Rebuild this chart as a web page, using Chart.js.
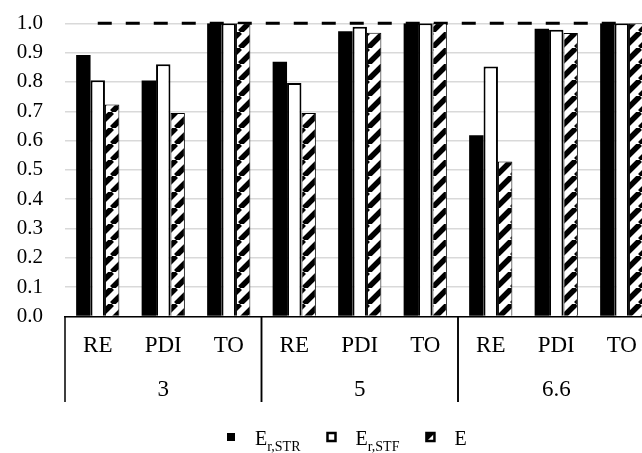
<!DOCTYPE html>
<html>
<head>
<meta charset="utf-8">
<script src="https://cdn.jsdelivr.net/npm/chart.js@4.4.1/dist/chart.umd.min.js"></script>
<style>
  html, body { margin: 0; padding: 0; background: #fff; overflow: hidden; }
  #wrap { width: 642px; height: 453px; overflow: hidden; position: relative; }
  #effChart { position: absolute; left: 0; top: 0; }
</style>
</head>
<body>
<div id="wrap"><canvas id="effChart" width="660" height="453"></canvas></div>
<script>
// groups along the x axis, each split into the three metrics
const groups = ['3', '5', '6.6'];
const metrics = ['RE', 'PDI', 'TO'];
const categories = groups.flatMap(() => metrics);

const strValues = [0.892, 0.805, 1.0, 0.869, 0.973, 1.0, 0.618, 0.981, 1.0];
const stfValues = [0.806, 0.860, 1.0, 0.796, 0.988, 1.0, 0.853, 0.978, 1.0];
const eValues   = [0.723, 0.694, 1.0, 0.694, 0.968, 1.0, 0.529, 0.967, 1.0];
const refValues = [1, 1, 1, 1, 1, 1, 1, 1, 1];

// legend text: main letter + subscript
const legendMain = ['E', 'E', 'E'];
const legendSub = ['r,STR', 'r,STF', ''];

const serif = "'Liberation Serif', 'Times New Roman', serif";
Chart.defaults.font.family = serif;
Chart.defaults.color = '#000';

// white fill with thick "/" stripes
function makeHatch() {
  const size = 16;
  const c = document.createElement('canvas');
  c.width = size;
  c.height = size;
  const g = c.getContext('2d');
  g.fillStyle = '#fff';
  g.fillRect(0, 0, size, size);
  g.strokeStyle = '#000';
  g.lineWidth = 5.5;
  g.beginPath();
  for (let k = -1; k <= 1; k++) {
    g.moveTo(k * size, size);
    g.lineTo(k * size + size, 0);
  }
  g.stroke();
  const ctx = document.getElementById('effChart').getContext('2d');
  return ctx.createPattern(c, 'repeat');
}

// second row of x labels plus the separators between groups
const groupAxis = {
  id: 'groupAxis',
  afterDraw(chart) {
    const ctx = chart.ctx;
    const xs = chart.scales.x;
    const half = (xs.getPixelForValue(1) - xs.getPixelForValue(0)) / 2;
    const top = chart.chartArea.bottom;
    const bottom = 402;
    ctx.save();
    ctx.strokeStyle = '#000';
    ctx.lineWidth = 1.5;
    ctx.fillStyle = '#000';
    ctx.font = '23px ' + serif;
    ctx.textAlign = 'center';
    ctx.textBaseline = 'alphabetic';
    groups.forEach((name, gi) => {
      const first = gi * metrics.length;
      const last = first + metrics.length - 1;
      const left = xs.getPixelForValue(first) - half;
      const right = xs.getPixelForValue(last) + half;
      ctx.beginPath();
      ctx.moveTo(left, top);
      ctx.lineTo(left, bottom);
      ctx.moveTo(right, top);
      ctx.lineTo(right, bottom);
      ctx.stroke();
      ctx.fillText(name, (left + right) / 2, 395.5);
    });
    ctx.restore();
  }
};

// legend row with subscripted labels
const subLegend = {
  id: 'subLegend',
  afterDraw(chart) {
    const ctx = chart.ctx;
    const bars = chart.data.datasets.filter(d => d.type === 'bar');
    let x = 227;
    const cy = 437;
    const baseline = 444.5;
    ctx.save();
    bars.forEach((ds, i) => {
      ctx.fillStyle = ds.backgroundColor;
      ctx.fillRect(x, cy - 4, 8, 8);
      if (ds.borderWidth) {
        ctx.strokeStyle = ds.borderColor;
        ctx.lineWidth = 2.5;
        ctx.strokeRect(x, cy - 4, 8, 8);
      }
      let tx = x + 28;
      ctx.fillStyle = '#000';
      ctx.textBaseline = 'alphabetic';
      ctx.textAlign = 'left';
      ctx.font = '20px ' + serif;
      ctx.fillText(legendMain[i], tx, baseline);
      tx += ctx.measureText(legendMain[i]).width;
      if (legendSub[i]) {
        ctx.font = '14px ' + serif;
        ctx.fillText(legendSub[i], tx, baseline + 6.5);
        tx += ctx.measureText(legendSub[i]).width;
      }
      x = tx + 27;
    });
    ctx.restore();
  }
};

new Chart(document.getElementById('effChart'), {
  data: {
    labels: categories,
    datasets: [
      {
        type: 'bar',
        label: 'Er,STR',
        data: strValues,
        backgroundColor: '#000',
        borderWidth: 0,
        order: 1
      },
      {
        type: 'bar',
        label: 'Er,STF',
        data: stfValues,
        backgroundColor: '#fff',
        borderColor: '#000',
        borderWidth: 2,
        order: 1
      },
      {
        type: 'bar',
        label: 'E',
        data: eValues,
        backgroundColor: makeHatch(),
        borderColor: '#000',
        borderWidth: 1,
        order: 1
      },
      {
        type: 'line',
        label: 'limit',
        data: refValues,
        borderColor: '#000',
        borderWidth: 3,
        borderDash: [14, 14],
        pointRadius: 0,
        fill: false,
        clip: false,
        order: 5
      }
    ]
  },
  options: {
    responsive: false,
    animation: false,
    layout: { padding: { top: 23.3, right: 5.5, left: 0, bottom: 0 } },
    datasets: {
      bar: { categoryPercentage: 0.66, barPercentage: 1.0 }
    },
    plugins: {
      legend: { display: false },
      tooltip: { enabled: false }
    },
    scales: {
      x: {
        grid: { display: false },
        border: { display: true, color: '#000', width: 1.5 },
        ticks: { font: { size: 23 }, color: '#000', padding: 8, maxRotation: 0, autoSkip: false },
        afterFit(scale) { scale.height = 136.5; }
      },
      y: {
        min: 0,
        max: 1,
        grid: { color: '#d9d9d9', lineWidth: 1.5, drawTicks: false },
        border: { display: false },
        ticks: {
          stepSize: 0.1,
          autoSkip: false,
          font: { size: 21 },
          color: '#000',
          padding: 22,
          callback: v => v.toFixed(1)
        },
        afterFit(scale) {
          scale.width = 65;
          scale.paddingTop = 0;
          scale.paddingBottom = 0;
        }
      }
    }
  },
  plugins: [groupAxis, subLegend]
});
</script>
</body>
</html>
